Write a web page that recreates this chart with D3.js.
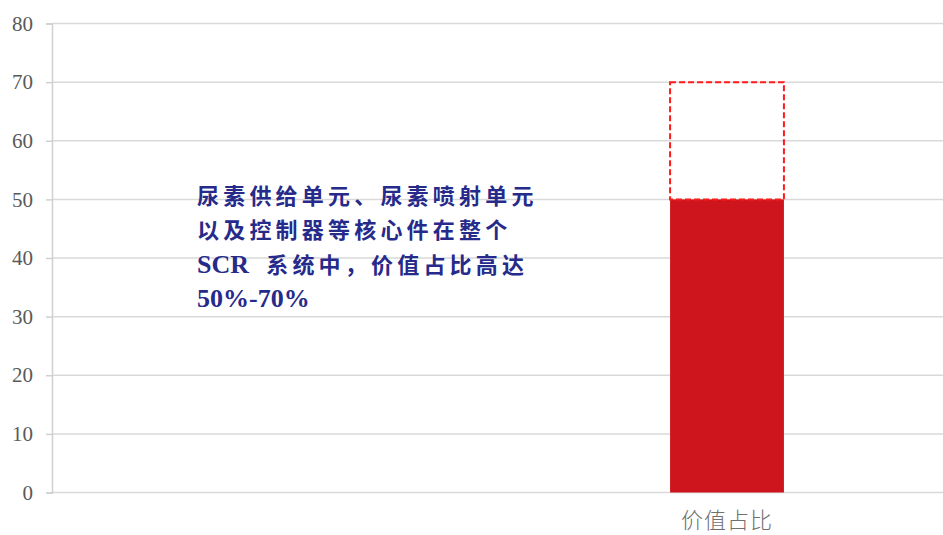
<!DOCTYPE html>
<html>
<head>
<meta charset="utf-8">
<script src="https://cdn.jsdelivr.net/npm/d3@7"></script>
<style>
  html, body { margin: 0; padding: 0; background: #fff; }
  svg { display: block; }
</style>
</head>
<body>
<svg id="chart" width="943" height="535"></svg>
<script>
// Categories: the left slot is left blank for the annotation text
const categories = ["", "价值占比"];
// Confirmed lower share (solid bar) and upper share (dashed outline), in %
const lowerValues = [null, 50];
const upperValues = [null, 70];
const yTicks = [0, 10, 20, 30, 40, 50, 60, 70, 80];
const noteLines = [
  "尿素供给单元、尿素喷射单元",
  "以及控制器等核心件在整个",
  "SCR 系统中，价值占比高达",
  "50%-70%"
];

(function () {
  const svg = d3.select("#chart");
  const W = 943;
  const plotLeft = 52, plotTop = 23.5, plotBottom = 492.5;

  const y = d3.scaleLinear().domain([0, 80]).range([plotBottom, plotTop]);
  const x = d3.scaleBand().domain(categories).range([plotLeft, 952])
    .paddingInner(0.747).paddingOuter(0.3735);

  // Gridlines
  svg.append("g").selectAll("line").data(yTicks).join("line")
    .attr("x1", plotLeft).attr("x2", W)
    .attr("y1", d => y(d)).attr("y2", d => y(d))
    .attr("stroke", "#d9d9d9").attr("stroke-width", 1.5);

  // Y axis
  const yAxis = svg.append("g").attr("transform", `translate(${plotLeft},0)`)
    .call(d3.axisLeft(y).tickValues(yTicks).tickSize(6).tickPadding(13));
  yAxis.select(".domain").attr("stroke", "#d0d0d0").attr("stroke-width", 1.5);
  yAxis.selectAll(".tick line").attr("stroke", "#d0d0d0").attr("stroke-width", 1.5);
  yAxis.selectAll(".tick text")
    .attr("fill", "#595959")
    .style("font-family", "'Liberation Serif', 'Times New Roman', serif")
    .style("font-size", "21px");

  const idx = d3.range(categories.length).filter(i => lowerValues[i] != null);

  // Solid bar: confirmed share
  svg.append("g").selectAll("rect").data(idx).join("rect")
    .attr("x", i => x(categories[i]))
    .attr("width", x.bandwidth())
    .attr("y", i => y(lowerValues[i]))
    .attr("height", i => y(0) - y(lowerValues[i]))
    .attr("fill", "#ce151d");

  // Dashed outline: upper range of the share
  svg.append("g").selectAll("rect").data(idx).join("rect")
    .attr("x", i => x(categories[i]))
    .attr("width", x.bandwidth())
    .attr("y", i => y(upperValues[i]))
    .attr("height", i => y(lowerValues[i]) - y(upperValues[i]))
    .attr("fill", "none")
    .attr("stroke", "#ff1a1a")
    .attr("stroke-width", 2)
    .attr("stroke-dasharray", "6,3");

  // Category labels
  svg.append("g").selectAll("text").data(categories).join("text")
    .attr("x", d => x(d) + x.bandwidth() / 2)
    .attr("y", 528)
    .attr("text-anchor", "middle")
    .attr("fill", "#707070")
    .style("font-family", "'Noto Sans CJK SC', sans-serif")
    .style("font-size", "22px")
    .style("font-weight", "300")
    .style("letter-spacing", "1px")
    .text(d => d);

  // Annotation: Latin runs in bold serif, CJK runs spaced out
  const note = svg.append("text")
    .attr("fill", "#262a8a")
    .style("font-weight", "bold");
  noteLines.forEach((line, i) => {
    const runs = line.match(/[A-Za-z0-9%\-]+|[^A-Za-z0-9%\-]+/g);
    runs.forEach((run, j) => {
      const latin = /^[A-Za-z0-9%\-]+$/.test(run);
      const t = note.append("tspan").text(run);
      if (j === 0) t.attr("x", 197).attr("y", 204 + i * 34.4);
      else if (!latin && /^\s/.test(run)) t.attr("dx", 8);
      if (latin) {
        t.style("font-family", "'Liberation Serif', 'Times New Roman', serif")
          .style("font-size", "26px").style("letter-spacing", "0px");
      } else {
        t.style("font-family", "'Noto Sans CJK SC', sans-serif")
          .style("font-size", "22px").style("letter-spacing", "4.2px");
      }
    });
  });
})();
</script>
</body>
</html>
